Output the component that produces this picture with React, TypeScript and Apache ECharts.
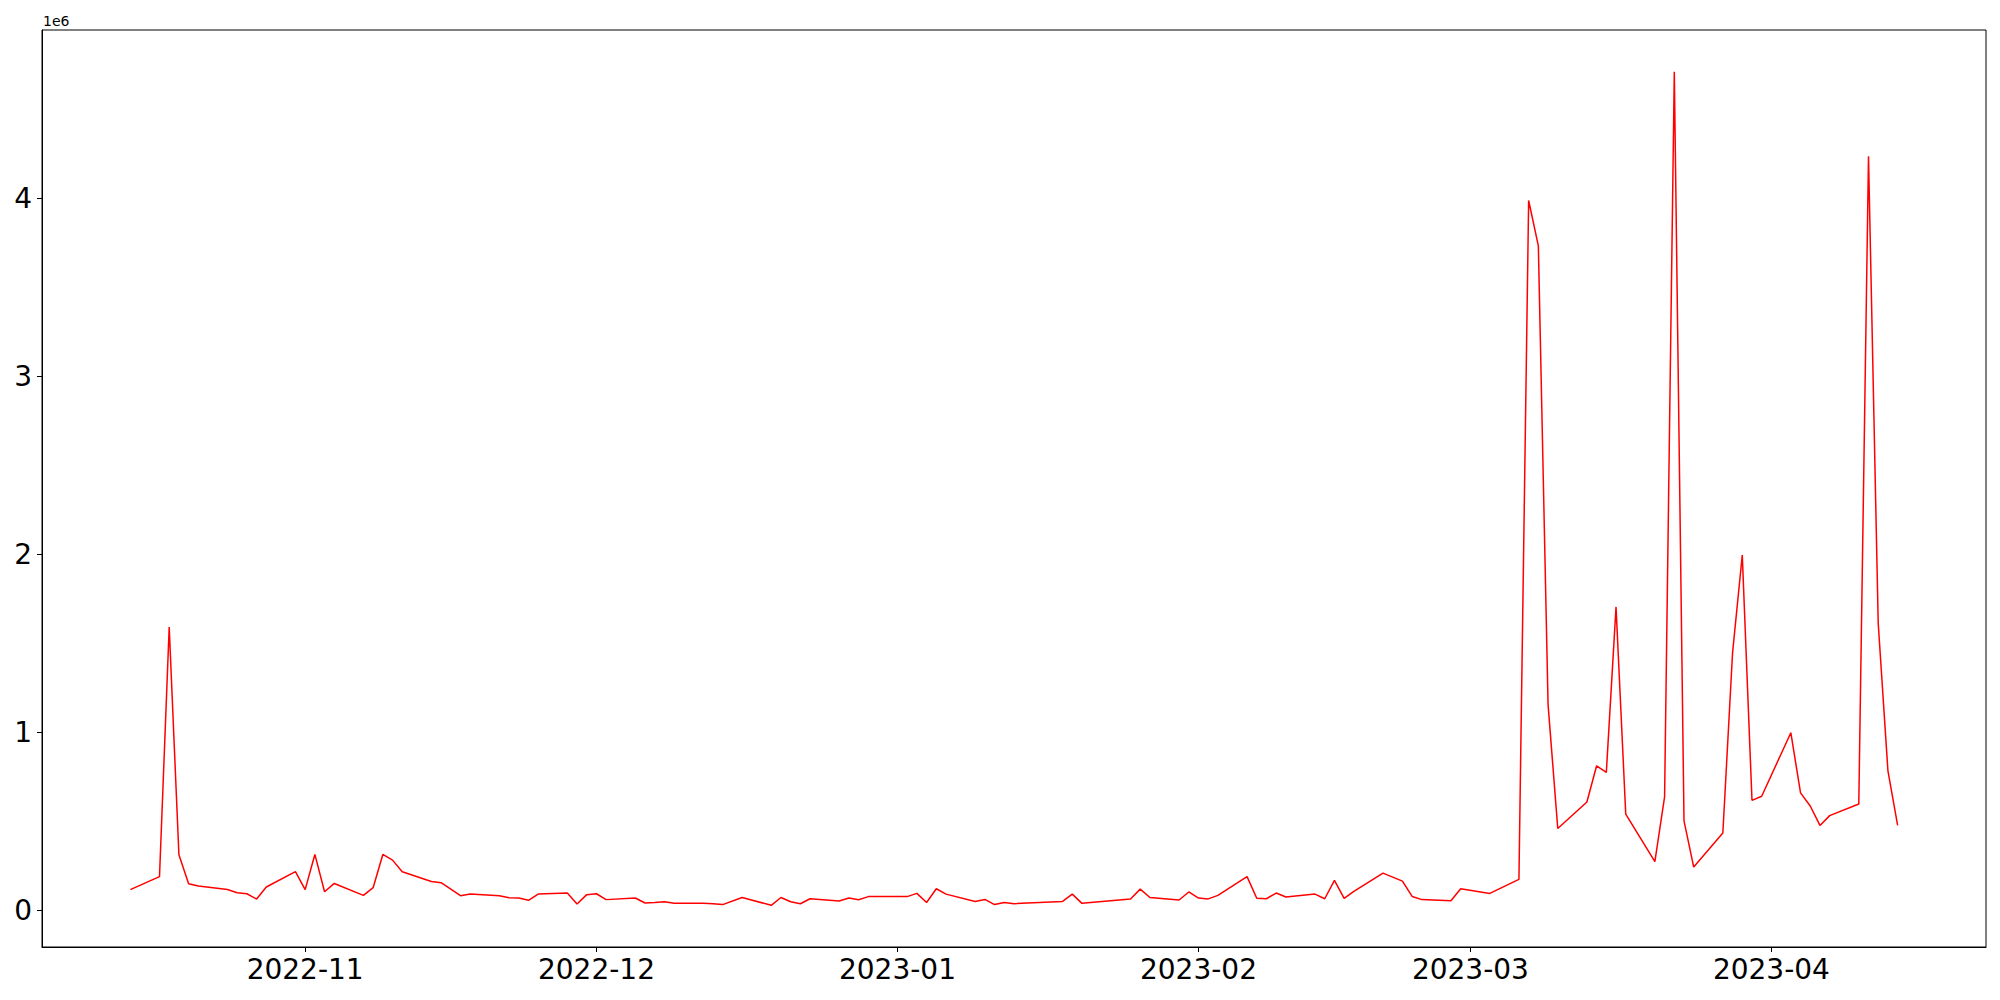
import React, { useEffect, useRef } from "react";
import * as echarts from "echarts";

const dates: string[] = [
  "2022-10-14", "2022-10-17", "2022-10-18", "2022-10-19", "2022-10-20", "2022-10-21", "2022-10-24", "2022-10-25", "2022-10-26", "2022-10-27", "2022-10-28", "2022-10-31",
  "2022-11-01", "2022-11-02", "2022-11-03", "2022-11-04", "2022-11-07", "2022-11-08", "2022-11-09", "2022-11-10", "2022-11-11", "2022-11-14", "2022-11-15", "2022-11-17", "2022-11-18", "2022-11-21", "2022-11-22", "2022-11-23", "2022-11-24", "2022-11-25", "2022-11-28", "2022-11-29", "2022-11-30",
  "2022-12-01", "2022-12-02", "2022-12-05", "2022-12-06", "2022-12-07", "2022-12-08", "2022-12-09", "2022-12-12", "2022-12-13", "2022-12-14", "2022-12-16", "2022-12-19", "2022-12-20", "2022-12-21", "2022-12-22", "2022-12-23", "2022-12-26", "2022-12-27", "2022-12-28", "2022-12-29", "2022-12-30",
  "2023-01-02", "2023-01-03", "2023-01-04", "2023-01-05", "2023-01-06", "2023-01-09", "2023-01-10", "2023-01-11", "2023-01-12", "2023-01-13", "2023-01-18", "2023-01-19", "2023-01-20", "2023-01-25", "2023-01-26", "2023-01-27", "2023-01-30", "2023-01-31",
  "2023-02-01", "2023-02-02", "2023-02-03", "2023-02-06", "2023-02-07", "2023-02-08", "2023-02-09", "2023-02-10", "2023-02-13", "2023-02-14", "2023-02-15", "2023-02-16", "2023-02-17", "2023-02-20", "2023-02-22", "2023-02-23", "2023-02-24", "2023-02-27", "2023-02-28",
  "2023-03-03", "2023-03-06", "2023-03-07", "2023-03-08", "2023-03-09", "2023-03-10", "2023-03-13", "2023-03-14", "2023-03-15", "2023-03-16", "2023-03-17", "2023-03-20", "2023-03-21", "2023-03-22", "2023-03-23", "2023-03-24", "2023-03-27", "2023-03-28", "2023-03-29", "2023-03-30", "2023-03-31",
  "2023-04-03", "2023-04-04", "2023-04-05", "2023-04-06", "2023-04-07", "2023-04-10", "2023-04-11", "2023-04-12", "2023-04-13", "2023-04-14",
];

const values: number[] = [
  117000, 190000, 1593000, 313000, 150000, 137000, 118000, 100000, 94000, 64000, 132000, 218000,
  117000, 315000, 105000, 152000, 85000, 128000, 315000, 283000, 218000, 163000, 156000, 83000, 92000, 83000, 72000, 70000, 57000, 92000, 98000, 36000, 89000,
  94000, 61000, 70000, 42000, 45000, 49000, 40000, 40000, 38000, 33000, 73000, 29000, 73000, 49000, 38000, 66000, 53000, 70000, 60000, 78000, 78000,
  78000, 96000, 45000, 122000, 92000, 51000, 62000, 33000, 45000, 38000, 51000, 92000, 40000, 65000, 120000, 73000, 59000, 104000,
  70000, 65000, 85000, 190000, 69000, 66000, 98000, 76000, 92000, 66000, 169000, 68000, 107000, 210000, 165000, 79000, 61000, 55000, 122000,
  96000, 175000, 3990000, 3735000, 1157000, 461000, 610000, 813000, 776000, 1706000, 541000, 275000, 638000, 4714000, 504000, 244000, 435000, 1448000, 1998000, 619000, 642000,
  999000, 661000, 587000, 478000, 533000, 598000, 4238000, 1614000, 785000, 478000,
];

const xTickLabels: string[] = ["2022-11", "2022-12", "2023-01", "2023-02", "2023-03", "2023-04"];
const yTicks: number[] = [0, 1000000, 2000000, 3000000, 4000000];

function toTime(s: string): number {
  const parts = s.split("-").map(Number);
  return Date.UTC(parts[0], parts[1] - 1, parts[2] || 1);
}

export default function App() {
  const ref = useRef<HTMLDivElement>(null);
  useEffect(() => {
    if (!ref.current) return;
    const chart = echarts.init(ref.current, undefined, { renderer: "svg" });
    const times = dates.map(toTime);
    const tMin = Math.min(...times);
    const tMax = Math.max(...times);
    const vMin = Math.min(...values);
    const vMax = Math.max(...values);
    const tPad = (tMax - tMin) * 0.05;
    const vPad = (vMax - vMin) * 0.05;
    const xTicks = xTickLabels.map(toTime);
    const font = "DejaVu Sans";
    chart.setOption({
      animation: false,
      grid: {
        left: 42,
        right: 14,
        top: 30,
        bottom: 53,
        show: true,
        borderColor: "#000",
        borderWidth: 1,
        backgroundColor: "#fff",
      },
      xAxis: {
        type: "value",
        min: tMin - tPad,
        max: tMax + tPad,
        axisLine: { show: true, onZero: false, lineStyle: { color: "#000", width: 1 } },
        axisTick: { show: true, length: 5, lineStyle: { color: "#000" }, customValues: xTicks },
        splitLine: { show: false },
        axisLabel: {
          customValues: xTicks,
          margin: 8,
          color: "#000",
          fontFamily: font,
          fontSize: 28,
          formatter: (v: number) => {
            const i = xTicks.indexOf(v);
            return i >= 0 ? xTickLabels[i] : "";
          },
        },
      },
      yAxis: {
        type: "value",
        min: vMin - vPad,
        max: vMax + vPad,
        axisLine: { show: true, onZero: false, lineStyle: { color: "#000", width: 1 } },
        axisTick: { show: true, length: 5, lineStyle: { color: "#000" }, customValues: yTicks },
        splitLine: { show: false },
        axisLabel: {
          customValues: yTicks,
          margin: 10,
          color: "#000",
          fontFamily: font,
          fontSize: 28,
          formatter: (v: number) => String(Math.round(v / 1e6)),
        },
      },
      graphic: [
        {
          type: "text",
          left: 43,
          top: 14,
          style: { text: "1e6", fontFamily: font, fontSize: 14, fill: "#000" },
        },
      ],
      series: [
        {
          type: "line",
          data: times.map((t, i) => [t, values[i]]),
          showSymbol: false,
          symbol: "none",
          lineStyle: { color: "#ff0000", width: 1.5 },
          itemStyle: { color: "#ff0000" },
        },
      ],
    });
    return () => chart.dispose();
  }, []);
  return (
    <div
      ref={ref}
      style={{ position: "absolute", left: 0, top: 0, width: 2000, height: 1000, background: "#fff" }}
    />
  );
}
